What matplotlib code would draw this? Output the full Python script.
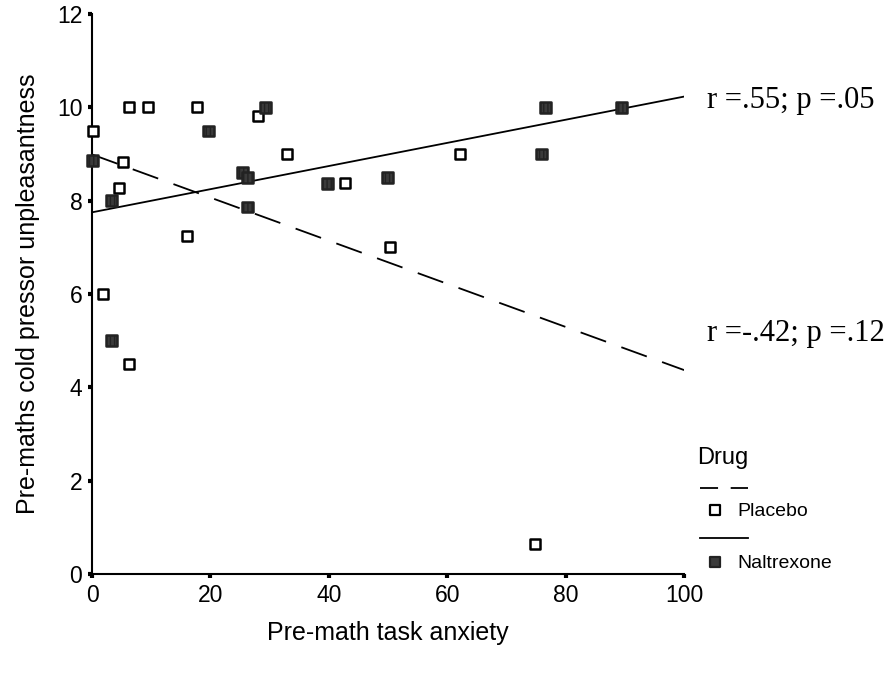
import matplotlib
matplotlib.use("Agg")
import matplotlib.pyplot as plt
import numpy as np
from matplotlib.lines import Line2D
from matplotlib.markers import MarkerStyle

# Pre-math task anxiety (x) vs pre-maths cold pressor unpleasantness (y)
placebo_anxiety = [0.2, 1.8, 5.2, 4.6, 6.2, 6.2, 9.5, 16.1, 17.7, 28.0, 33.0, 42.7, 50.4, 62.1, 74.9]
placebo_unpleasant = [9.5, 6.0, 8.82, 8.27, 10.0, 4.5, 10.0, 7.24, 10.0, 9.81, 9.01, 8.37, 7.0, 9.0, 0.64]

naltrexone_anxiety = [0.1, 3.3, 3.3, 19.7, 25.4, 26.3, 26.3, 29.3, 39.8, 49.9, 75.9, 76.6, 89.4]
naltrexone_unpleasant = [8.86, 8.0, 5.0, 9.49, 8.6, 8.5, 7.86, 10.0, 8.37, 8.5, 9.0, 10.0, 10.0]

# fitted regression lines: (intercept, slope)
placebo_fit = (8.99, -0.0462)
naltrexone_fit = (7.75, 0.0248)

placebo_note = "r =-.42; p =.12"
naltrexone_note = "r =.55; p =.05"

x_ticks = [0, 20, 40, 60, 80, 100]
y_ticks = [0, 2, 4, 6, 8, 10, 12]

plt.rcParams["font.family"] = ["Liberation Sans", "DejaVu Sans"]

W, H = 889, 675
fig = plt.figure(figsize=(W / 100, H / 100), dpi=100)
ax = fig.add_axes([0.1035, 0.1496, 0.666, 0.8297])

sq = MarkerStyle("s", joinstyle="round")
open_style = dict(facecolor="white", edgecolor="black", linewidths=1.8)
filled_style = dict(facecolor="#3a3a3a", edgecolor="#222222", linewidths=1.8, hatch="||||")

ax.scatter(placebo_anxiety, placebo_unpleasant, marker=sq, s=58,
           zorder=3, clip_on=False, **open_style)
ax.scatter(naltrexone_anxiety, naltrexone_unpleasant, marker=sq, s=58,
           zorder=3, clip_on=False, **filled_style)

xs = np.array([0, 100])
ax.plot(xs, placebo_fit[0] + placebo_fit[1] * xs, color="black",
        lw=1.3, dashes=(15, 9), zorder=2)
ax.plot(xs, naltrexone_fit[0] + naltrexone_fit[1] * xs, color="black",
        lw=1.3, zorder=2)

ax.text(103.8, 10.15, naltrexone_note, family="Liberation Serif",
        fontsize=22, va="center", ha="left", clip_on=False)
ax.text(103.8, 5.16, placebo_note, family="Liberation Serif",
        fontsize=22, va="center", ha="left", clip_on=False)

ax.set_xlim(0, 100)
ax.set_ylim(0, 12)
ax.set_xticks(x_ticks)
ax.set_yticks(y_ticks)
ax.tick_params(axis="both", labelsize=16.5, length=3, width=3, pad=4)

for side in ("top", "right"):
    ax.spines[side].set_visible(False)
for side in ("left", "bottom"):
    ax.spines[side].set_linewidth(1.5)

ax.set_xlabel("Pre-math task anxiety", fontsize=18, labelpad=10)
ax.set_ylabel("Pre-maths cold pressor unpleasantness", fontsize=18, labelpad=12)


# legend block, laid out in pixel positions on the figure
def fx(px):
    return px / W


def fy(py):
    return 1 - py / H


fig.text(fx(697), fy(458), "Drug", fontsize=17, va="center", ha="left")
fig.add_artist(Line2D([fx(700), fx(748)], [fy(488), fy(488)], color="black",
                      lw=1.3, dashes=(10, 7)))
fig.add_artist(Line2D([fx(715)], [fy(510)], marker=sq, ls="none", markersize=7,
                      markerfacecolor="white", markeredgecolor="black",
                      markeredgewidth=1.6))
fig.text(fx(737), fy(511), "Placebo", fontsize=14, va="center", ha="left")
fig.add_artist(Line2D([fx(700), fx(748)], [fy(538), fy(538)], color="black", lw=1.3))
fig.add_artist(Line2D([fx(715)], [fy(562)], marker=sq, ls="none", markersize=7,
                      markerfacecolor="#3a3a3a", markeredgecolor="#222222",
                      markeredgewidth=1.6))
fig.text(fx(737), fy(563), "Naltrexone", fontsize=14, va="center", ha="left")

fig.savefig("out.png", dpi=100)
